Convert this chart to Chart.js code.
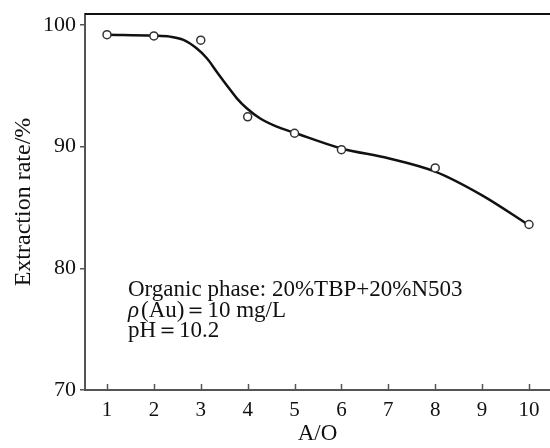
<!DOCTYPE html>
<html>
<head>
<meta charset="utf-8">
<script src="https://cdn.jsdelivr.net/npm/chart.js@4"></script>
<style>
  body { margin: 0; background: #fff; }
  #wrap { width: 550px; height: 448px; }
</style>
</head>
<body>
<div id="wrap"><canvas id="extChart" width="550" height="448"></canvas></div>
<script>
// measured points (A/O vs extraction rate)
const ratioAO = [1, 2, 3, 4, 5, 6, 8, 10];
const extractionRate = [99.2, 99.1, 98.75, 92.45, 91.1, 89.75, 88.25, 83.6];

// fitted curve
const curveAO = [1, 2, 2.34, 2.63, 2.91, 3.13, 3.34, 3.55, 3.77, 3.98, 4.26, 4.62, 4.97, 6, 7, 8, 9, 10];
const curveRate = [99.2, 99.12, 99.04, 98.77, 98.08, 97.26, 96.16, 95.07, 93.97, 93.15, 92.33, 91.64, 91.18, 89.85, 89.05, 87.95, 86.0, 83.55];

const xTicks = [1, 2, 3, 4, 5, 6, 7, 8, 9, 10];
const yTicks = [70, 80, 90, 100];

const noteLines = ['Organic phase: 20%TBP+20%N503', '(Au)\uFF1D10 mg/L', 'pH\uFF1D10.2'];

const serif = "'Liberation Serif', 'Times New Roman', serif";
const axisColor = '#555';

const framePlugin = {
    id: 'frame',
    afterDraw(chart) {
        const c = chart.ctx;
        const a = chart.chartArea;
        const xs = chart.scales.x;
        c.save();
        // top border
        c.strokeStyle = '#111';
        c.lineWidth = 2;
        c.beginPath();
        c.moveTo(a.left, a.top);
        c.lineTo(a.right, a.top);
        c.stroke();
        // inward x ticks
        c.strokeStyle = axisColor;
        c.lineWidth = 1.5;
        xTicks.forEach(function(v) {
            const px = Math.round(xs.getPixelForValue(v)) + 0.5;
            c.beginPath();
            c.moveTo(px, a.bottom);
            c.lineTo(px, a.bottom - 6);
            c.stroke();
        });
        // annotation
        c.fillStyle = '#111';
        c.textBaseline = 'alphabetic';
        c.font = '23px ' + serif;
        const x0 = 128;
        c.fillText(noteLines[0], x0, 296);
        c.font = 'italic 23px ' + serif;
        c.fillText('\u03C1', x0, 317);
        const w = c.measureText('\u03C1').width;
        c.font = '23px ' + serif;
        c.fillText(noteLines[1], x0 + w + 2, 317);
        c.fillText(noteLines[2], x0, 337);
        c.restore();
    }
};

new Chart(document.getElementById('extChart').getContext('2d'), {
    type: 'line',
    data: {
        datasets: [{
            data: ratioAO.map((x, i) => ({ x: x, y: extractionRate[i] })),
            showLine: false,
            pointRadius: 4,
            pointBorderWidth: 1.5,
            pointBorderColor: '#333',
            pointBackgroundColor: '#fff'
        }, {
            data: curveAO.map((x, i) => ({ x: x, y: curveRate[i] })),
            borderColor: '#111',
            borderWidth: 2.5,
            pointRadius: 0,
            cubicInterpolationMode: 'monotone',
            fill: false
        }]
    },
    options: {
        responsive: false,
        animation: false,
        layout: { autoPadding: false, padding: { top: 14, right: 0, left: 0, bottom: 0 } },
        plugins: {
            legend: { display: false },
            tooltip: { enabled: false }
        },
        scales: {
            x: {
                type: 'linear',
                min: 0.531,
                max: 10.448,
                afterBuildTicks: function(scale) {
                    scale.ticks = xTicks.map(v => ({ value: v }));
                },
                afterFit: function(scale) {
                    scale.height = 58;
                    scale.paddingLeft = 0;
                    scale.paddingRight = 0;
                },
                grid: { display: true, drawOnChartArea: false, drawTicks: false },
                border: { display: true, color: axisColor, width: 2 },
                ticks: {
                    padding: 8,
                    color: '#111',
                    font: { family: serif, size: 21 }
                },
                title: {
                    display: true,
                    text: 'A/O',
                    color: '#111',
                    font: { family: serif, size: 23 },
                    padding: { top: 0, bottom: 0 }
                }
            },
            y: {
                min: 70,
                max: 100.9,
                afterBuildTicks: function(scale) {
                    scale.ticks = yTicks.map(v => ({ value: v }));
                },
                afterFit: function(scale) {
                    scale.width = 85;
                    scale.paddingTop = 0;
                    scale.paddingBottom = 0;
                },
                grid: { display: true, drawOnChartArea: false, drawTicks: true, tickLength: 5, color: axisColor, lineWidth: 1.5 },
                border: { display: true, color: axisColor, width: 2 },
                ticks: {
                    padding: 4,
                    color: '#111',
                    font: { family: serif, size: 22 }
                },
                title: {
                    display: true,
                    text: 'Extraction rate/%',
                    color: '#111',
                    font: { family: serif, size: 24 },
                    padding: { top: 9, bottom: 0 }
                }
            }
        }
    },
    plugins: [framePlugin]
});
</script>
</body>
</html>
